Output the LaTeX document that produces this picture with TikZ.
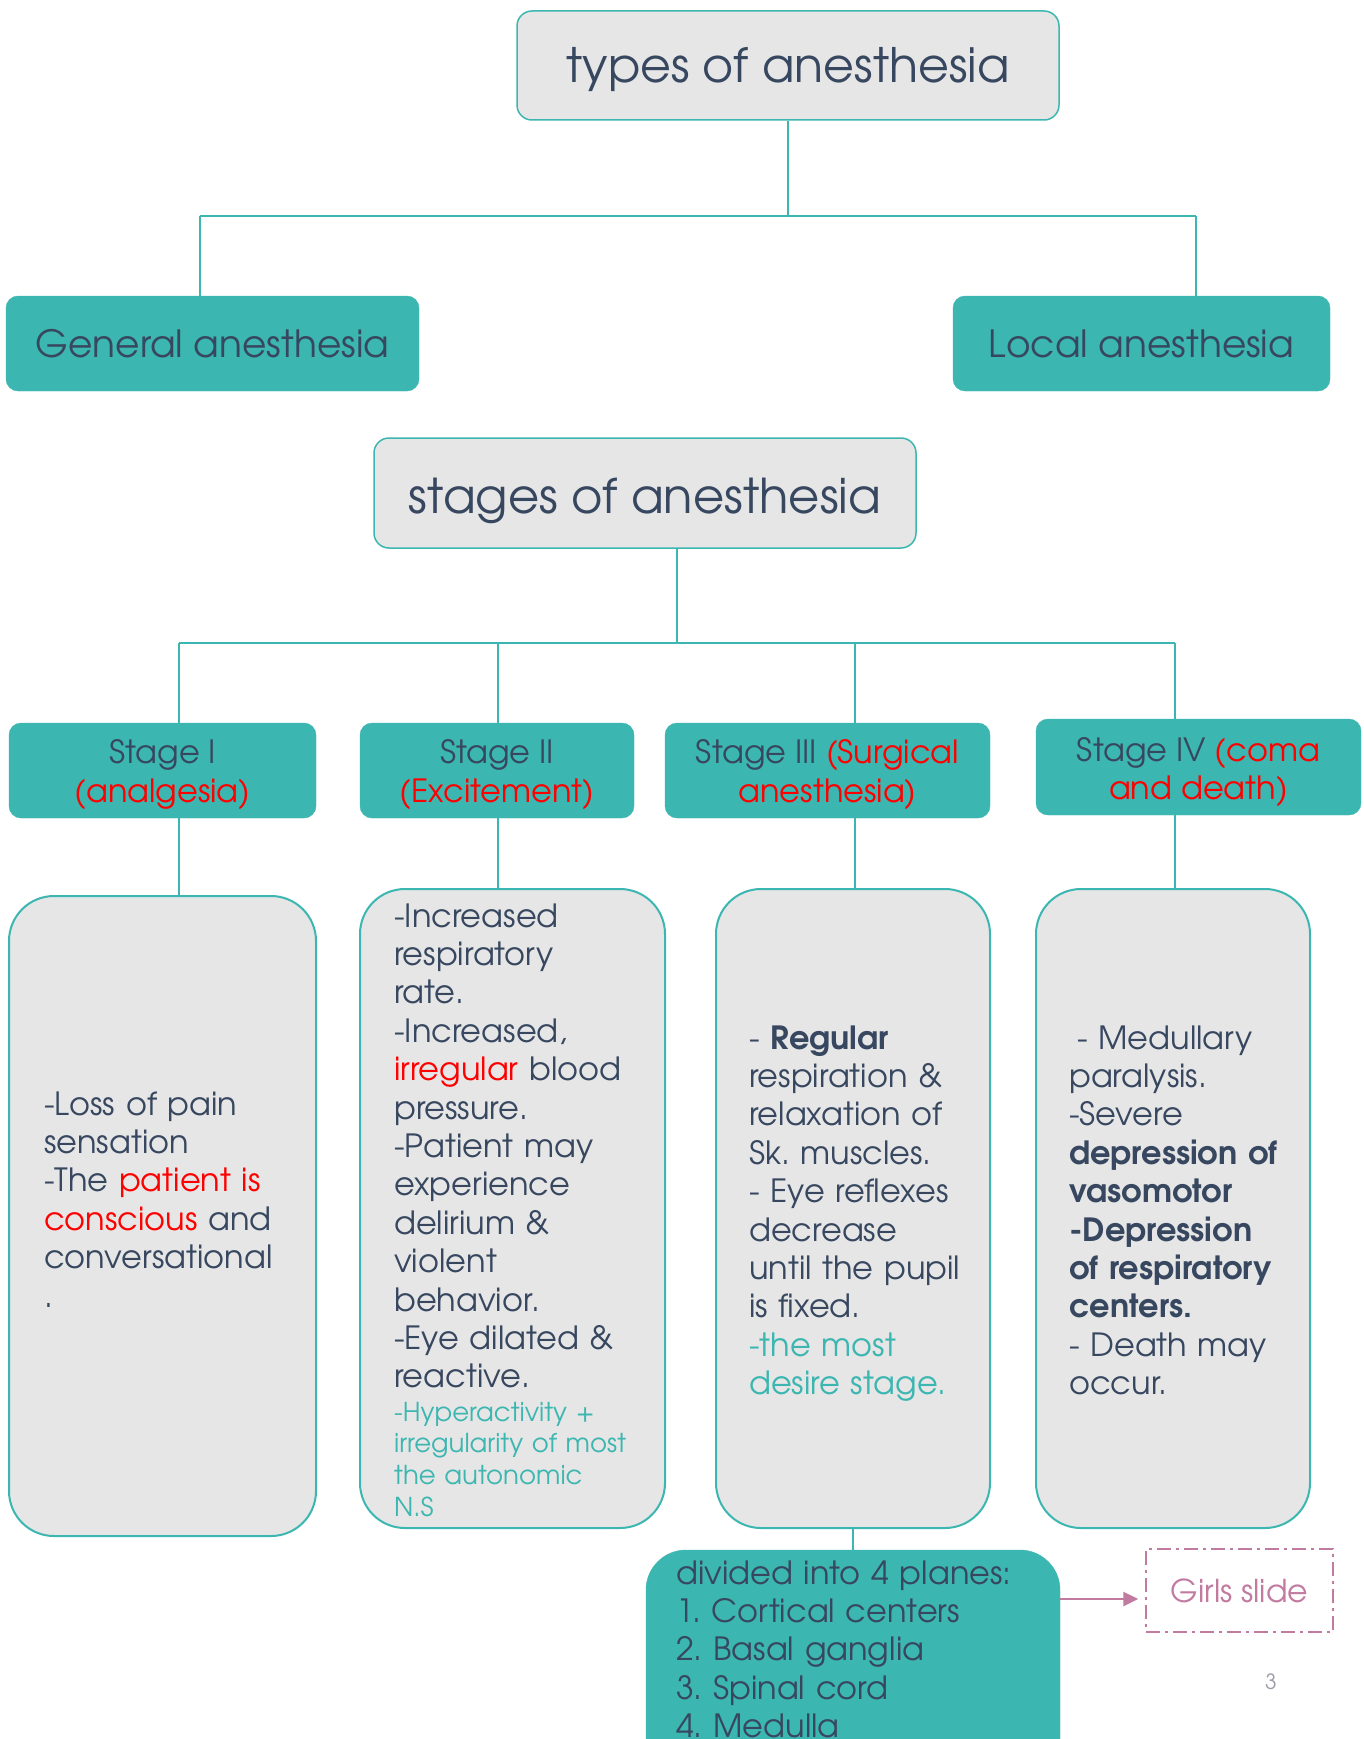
\documentclass[tikz,border=0pt]{standalone}
\usepackage{fontspec}
\setmainfont{TeX Gyre Adventor}
\usetikzlibrary{arrows.meta}
\definecolor{tealc}{HTML}{3CB6B0}
\definecolor{ink}{HTML}{37475F}
\definecolor{grayfill}{HTML}{E6E6E6}
\definecolor{pinkc}{HTML}{C27BA0}
\definecolor{pagegray}{HTML}{9A9AA8}
\frenchspacing
\begin{document}
\frenchspacing
\begin{tikzpicture}[x=1pt,y=-1pt,
  titlebox/.style={draw=tealc, line width=1.5pt, fill=grayfill, rounded corners=15pt, inner sep=0pt, text=ink},
  tealbox/.style={draw=tealc, fill=tealc, rounded corners=12pt, inner sep=0pt, text=ink, align=center},
  stagetxt/.style={inner sep=0pt, text=ink, align=center, font=\fontsize{32}{38.4}\selectfont},
  contentbox/.style={draw=tealc, line width=2pt, fill=grayfill, rounded corners=45pt, inner sep=0pt},
  conn/.style={draw=tealc, line width=1.5pt},
  txt/.style={anchor=base west, inner sep=0pt, align=left, text width=420pt, text=ink, font=\fontsize{32}{38.4}\selectfont\frenchspacing},
  smalltxt/.style={txt, text=tealc, font=\fontsize{26}{31.8}\selectfont\frenchspacing},
]
\clip (0,0) rectangle (1364,1739);
\fill[white] (0,0) rectangle (1364,1739);

% top level
\node[titlebox, minimum width=542pt, minimum height=109pt] (top) at (788,65.5) {};
\node[inner sep=0pt, text=ink, font=\fontsize{47.5}{55}\selectfont] (toptxt) at ([yshift=-4pt]top.center) {types of anesthesia};
\node[tealbox, minimum width=413pt, minimum height=95pt, font=\fontsize{37.5}{46}\selectfont] (gen) at (212.5,343.5) {General anesthesia};
\node[tealbox, minimum width=377pt, minimum height=95pt, font=\fontsize{37.5}{46}\selectfont] (loc) at (1141.5,343.5) {Local anesthesia};

\coordinate (busL) at (200,216);
\coordinate (busR) at (1196,216);
\draw[conn] (top.south) -- (top.south |- busL);
\draw[conn] (busL) -- (busR);
\draw[conn] (busL) -- (busL |- gen.north);
\draw[conn] (busR) -- (busR |- loc.north);

% stages
\node[titlebox, minimum width=542pt, minimum height=110pt] (stages) at (645,493) {};
\node[inner sep=0pt, text=ink, font=\fontsize{48}{55}\selectfont] (stagestxt) at ([yshift=-7.5pt]stages.center) {stages of anesthesia};

\node[tealbox, minimum width=307pt, minimum height=95pt] (s1) at (162.5,770.5) {};
\node[tealbox, minimum width=274pt, minimum height=95pt] (s2) at (497,770.5) {};
\node[tealbox, minimum width=325pt, minimum height=95pt] (s3) at (827.5,770.5) {};
\node[tealbox, minimum width=325pt, minimum height=96pt] (s4) at (1198.5,767) {};
\node[stagetxt] (s1t) at ([yshift=-4pt]s1.center) {Stage I\\{\color{red}(analgesia)}};
\node[stagetxt] (s2t) at ([yshift=-4pt]s2.center) {Stage II\\{\color{red}(Excitement)}};
\node[stagetxt] (s3t) at ([yshift=-4pt]s3.center) {Stage III {\color{red}(Surgical}\\{\color{red}anesthesia)}};
\node[stagetxt] (s4t) at ([yshift=-5pt]s4.center) {Stage IV {\color{red}(coma}\\{\color{red}and death)}};

\coordinate (sv) at (677,643);
\coordinate (c1) at (179,643);
\coordinate (c2) at (498,643);
\coordinate (c3) at (855,643);
\coordinate (c4) at (1175,643);
\draw[conn] (sv |- stages.south) -- (sv);
\draw[conn] (c1) -- (c4);
\draw[conn] (c1) -- (c1 |- s1.north);
\draw[conn] (c2) -- (c2 |- s2.north);
\draw[conn] (c3) -- (c3 |- s3.north);
\draw[conn] (c4) -- (c4 |- s4.north);

% content boxes
\node[contentbox, minimum width=307pt, minimum height=640pt] (b1) at (162.5,1216) {};
\node[contentbox, minimum width=305pt, minimum height=639pt] (b2) at (512.5,1208.5) {};
\node[contentbox, minimum width=274pt, minimum height=639pt] (b3) at (853,1208.5) {};
\node[contentbox, minimum width=274pt, minimum height=639pt] (b4) at (1173,1208.5) {};

\draw[conn] (c1 |- s1.south) -- (c1 |- b1.north);
\draw[conn] (c2 |- s2.south) -- (c2 |- b2.north);
\draw[conn] (c3 |- s3.south) -- (c3 |- b3.north);
\draw[conn] (c4 |- s4.south) -- (c4 |- b4.north);

\node[txt] (t1) at (44,1115) {-Loss of pain\\sensation\\-The {\color{red}patient is}\\{\color{red}conscious} and\\conversational\\.};

\node[txt] (t2) at (394,927) {-Increased\\respiratory\\rate.\\-Increased,\\{\color{red}irregular} blood\\pressure.\\-Patient may\\experience\\delirium \&\\violent\\behavior.\\-Eye dilated \&\\reactive.};
\node[smalltxt] (t2b) at (394,1421) {-Hyperactivity +\\irregularity of most\\the autonomic\\N.S};

\node[txt] (t3) at (749,1049) {- \textbf{Regular}\\respiration \&\\relaxation of\\Sk. muscles.\\- Eye reflexes\\decrease\\until the pupil\\is fixed.\\{\color{tealc}-the most}\\{\color{tealc}desire stage.}};

\node[txt] (t4) at (1069,1049) {\hspace*{0.25em}- Medullary\\paralysis.\\-Severe\\\textbf{depression of}\\\textbf{vasomotor}\\\textbf{-Depression}\\\textbf{of respiratory}\\\textbf{centers.}\\- Death may\\occur.};

% planes
\node[tealbox, rounded corners=40pt, minimum width=414pt, minimum height=240pt] (planes) at (853,1670) {};
\draw[conn] (b3.south) -- (planes.north);
\node[txt] (tp) at (676,1584) {divided into 4 planes:\\1. Cortical centers\\2. Basal ganglia\\3. Spinal cord\\4. Medulla};

% girls slide
\node[draw=pinkc, line width=1.5pt, dash pattern=on 14pt off 5pt on 3pt off 5pt, minimum width=187pt, minimum height=83pt, inner sep=0pt, text=pinkc, font=\fontsize{31.5}{37}\selectfont] (girls) at (1239.5,1590.5) {Girls slide};
\draw[pinkc, line width=2.5pt, -{Triangle[length=15pt,width=14pt]}, shorten >=7pt] (planes.east |- 0,1599) -- (girls.west |- 0,1599);

\node[text=pagegray, font=\fontsize{21}{25}\selectfont, inner sep=0pt] (pg) at (1271,1682) {3};
\end{tikzpicture}
\end{document}
